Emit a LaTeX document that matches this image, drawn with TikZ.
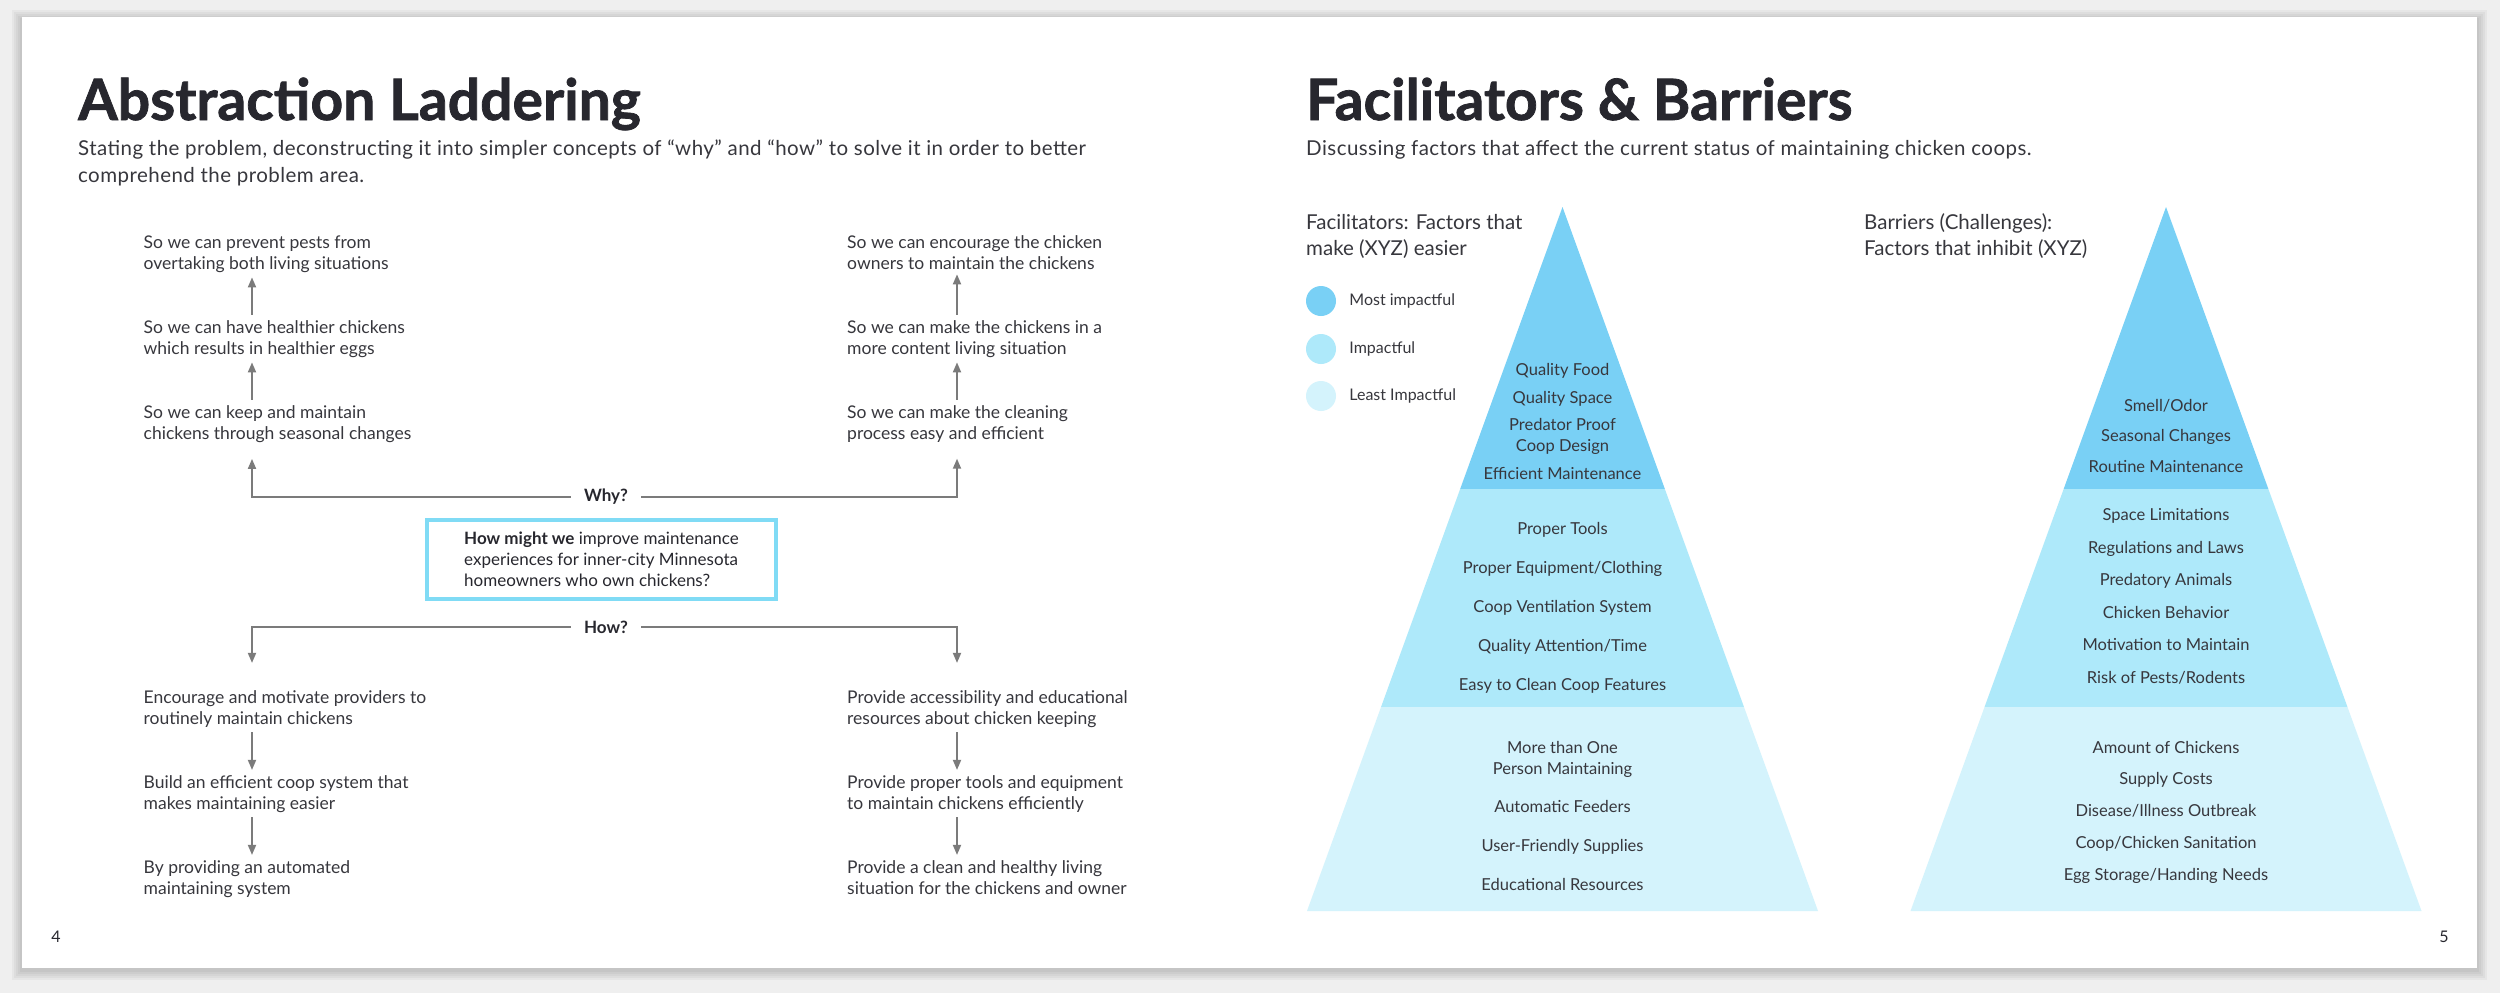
\documentclass[tikz,border=0pt]{standalone}
\usepackage{fontspec}
\setmainfont{Lato}
\newfontfamily\titlefont{Lato}[BoldFeatures={FakeBold=1.3}]
\newfontfamily\leadfont{Lato}[LetterSpace=2.2]
\usetikzlibrary{
  arrows.meta,   % for arrow tips
  positioning}   % for the legend labels
\definecolor{inkdark}{HTML}{27272E}
\definecolor{inkbody}{HTML}{37373D}
\definecolor{laddergray}{HTML}{7B7B7B}
\definecolor{hmwcyan}{HTML}{80DBF5}
\definecolor{mostblue}{HTML}{79D0F5}
\definecolor{midblue}{HTML}{AEE9FA}
\definecolor{leastblue}{HTML}{D4F3FC}
\definecolor{pagegray}{HTML}{EFEFEF}
\tikzset{
  page title/.style={
    anchor=base west, inner sep=0pt, text=inkdark,
    font=\titlefont\fontsize{57}{62}\selectfont\bfseries},
  page lead/.style={
    anchor=base west, inner sep=0pt, align=left, text=inkbody,
    font=\leadfont\fontsize{20.5}{27}\selectfont},
  rung/.style={
    anchor=base west, inner xsep=0pt, inner ysep=5pt, align=left,
    text=inkbody, font=\fontsize{17.5}{21}\selectfont},
  rung arrow/.style={
    draw=laddergray, line width=1.8pt, -{Triangle[length=10pt,width=8pt]}},
  branch label/.style={
    inner xsep=13pt, inner ysep=0pt, text=inkdark,
    font=\fontsize{17}{21}\selectfont\bfseries},
  hmw box/.style={
    draw=hmwcyan, line width=4pt, minimum width=349pt, minimum height=79pt,
    align=left, text=inkdark, font=\fontsize{17}{21}\selectfont},
  band label/.style={
    anchor=base, inner sep=0pt, align=center, text=inkbody,
    font=\fontsize{16.5}{21}\selectfont},
  key dot/.style={circle, minimum size=30pt, inner sep=0pt, fill=#1},
  key label/.style={
    inner sep=0pt, text=inkbody, font=\fontsize{16}{20}\selectfont},
  side head/.style={
    anchor=base west, inner sep=0pt, align=left, text=inkbody,
    font=\fontsize{20.5}{26}\selectfont},
  folio/.style={inner sep=0pt, text=inkdark, font=\fontsize{16}{20}\selectfont}
}

\begin{document}
\begin{tikzpicture}[x=1pt, y=-1pt]
\useasboundingbox (0,0) rectangle (2500,993);

% spread with its shadow
\fill[pagegray] (0,0) rectangle (2500,993);
\foreach \s in {10,8,...,2}
  \fill[black, opacity=.035] (22-\s,17-\s+3) rectangle (2477+\s,968+\s+2);
\fill[white] (22,17) rectangle (2477,968);

% left page: abstraction laddering
% (multi-line nodes sit on the baseline of their last line)
\node[page title] (ladder-title) at (78,120) {Abstraction Laddering};
\node[page lead] (ladder-lead) at (78,182) {
  Stating the problem, deconstructing it into simpler concepts of “why” and
  “how” to solve it in order to better\\comprehend the problem area.};

\coordinate (lcol) at (252,0);
\coordinate (rcol) at (957,0);

\node[rung] (why-l1) at (143.5,269) {So we can prevent pests from\\overtaking both living situations};
\node[rung] (why-l2) at (143.5,354) {So we can have healthier chickens\\which results in healthier eggs};
\node[rung] (why-l3) at (143.5,439) {So we can keep and maintain\\chickens through seasonal changes};
\node[rung] (why-r1) at (847,269) {So we can encourage the chicken\\owners to maintain the chickens};
\node[rung] (why-r2) at (847,354) {So we can make the chickens in a\\more content living situation};
\node[rung] (why-r3) at (847,439) {So we can make the cleaning\\process easy and efficient};

\node[rung] (how-l1) at (143.5,724) {Encourage and motivate providers to\\routinely maintain chickens};
\node[rung] (how-l2) at (143.5,809) {Build an efficient coop system that\\makes maintaining easier};
\node[rung] (how-l3) at (143.5,894) {By providing an automated\\maintaining system};
\node[rung] (how-r1) at (847,724) {Provide accessibility and educational\\resources about chicken keeping};
\node[rung] (how-r2) at (847,809) {Provide proper tools and equipment\\to maintain chickens efficiently};
\node[rung] (how-r3) at (847,894) {Provide a clean and healthy living\\situation for the chickens and owner};

\node[hmw box] (hmw) at (601.5,559.5) {
  \textbf{How might we} improve maintenance\\
  experiences for inner-city Minnesota\\
  homeowners who own chickens?};

\node[branch label] (why) at (606,497) {Why?};
\node[branch label] (how) at (606,627) {How?};

\draw[rung arrow] (why-l2.north -| lcol) -- (why-l1.south -| lcol);
\draw[rung arrow] (why-l3.north -| lcol) -- (why-l2.south -| lcol);
\draw[rung arrow] (why-r2.north -| rcol) -- (why-r1.south -| rcol);
\draw[rung arrow] (why-r3.north -| rcol) -- (why-r2.south -| rcol);
\draw[rung arrow, shorten >=11.5pt] (why.west) -| (why-l3.south -| lcol);
\draw[rung arrow, shorten >=11.5pt] (why.east) -| (why-r3.south -| rcol);

\draw[rung arrow, shorten >=22pt] (how.west) -| (how-l1.north -| lcol);
\draw[rung arrow, shorten >=22pt] (how.east) -| (how-r1.north -| rcol);
\draw[rung arrow] (how-l1.south -| lcol) -- (how-l2.north -| lcol);
\draw[rung arrow] (how-l2.south -| lcol) -- (how-l3.north -| lcol);
\draw[rung arrow] (how-r1.south -| rcol) -- (how-r2.north -| rcol);
\draw[rung arrow] (how-r2.south -| rcol) -- (how-r3.north -| rcol);

\node[folio] (folio-4) at (56,937) {4};

% right page: facilitators and barriers
\node[page title] (fb-title) at (1306,120) {Facilitators \& Barriers};
\node[page lead] (fb-lead) at (1306,155) {
  Discussing factors that affect the current status of maintaining chicken coops.};

\node[side head] (fac-head) at (1306,255) {Facilitators: Factors that\\make (XYZ) easier};
\node[side head] (bar-head) at (1864,255) {Barriers (Challenges):\\Factors that inhibit (XYZ)};

\node[key dot=mostblue]  (key-most)  at (1321,301) {};
\node[key dot=midblue]   (key-mid)   at (1321,349) {};
\node[key dot=leastblue] (key-least) at (1321,396) {};
\node[key label, right=13pt of key-most]  (key-most-t)  {Most impactful};
\node[key label, right=13pt of key-mid]   (key-mid-t)   {Impactful};
\node[key label, right=13pt of key-least] (key-least-t) {Least Impactful};

\foreach \cx/\nm in {1562.5/fac, 2166/bar} {
  \coordinate (\nm-apex)  at (\cx,207);
  \coordinate (\nm-left)  at (\cx-255.5,911);
  \coordinate (\nm-right) at (\cx+255.5,911);
  \begin{scope}
    \clip (\nm-apex) -- (\nm-left) -- (\nm-right) -- cycle;
    \fill[mostblue]  (\cx-260,200) rectangle (\cx+260,489);
    \fill[midblue]   (\cx-260,489) rectangle (\cx+260,707);
    \fill[leastblue] (\cx-260,707) rectangle (\cx+260,912);
  \end{scope}
}

\foreach \y/\t [count=\i] in {
    375/Quality Food, 403/Quality Space, 479/Efficient Maintenance,
    534/Proper Tools, 573/{Proper Equipment/Clothing},
    612/Coop Ventilation System, 651/{Quality Attention/Time},
    690/Easy to Clean Coop Features,
    812/Automatic Feeders, 851/User-Friendly Supplies,
    890/Educational Resources}
  \node[band label] (fac-\i) at (1562.5,\y) {\t};
\node[band label] (fac-coop) at (1562.5,451) {Predator Proof\\Coop Design};
\node[band label] (fac-more) at (1562.5,774) {More than One\\Person Maintaining};

\foreach \y/\t [count=\i] in {
    411/{Smell/Odor}, 441/Seasonal Changes, 472/Routine Maintenance,
    520/Space Limitations, 553/Regulations and Laws, 585/Predatory Animals,
    618/Chicken Behavior, 650/Motivation to Maintain,
    683/{Risk of Pests/Rodents},
    753/Amount of Chickens, 784/Supply Costs,
    816/{Disease/Illness Outbreak}, 848/{Coop/Chicken Sanitation},
    880/{Egg Storage/Handing Needs}}
  \node[band label] (bar-\i) at (2166,\y) {\t};

\node[folio] (folio-5) at (2444,937) {5};
\end{tikzpicture}
\end{document}
